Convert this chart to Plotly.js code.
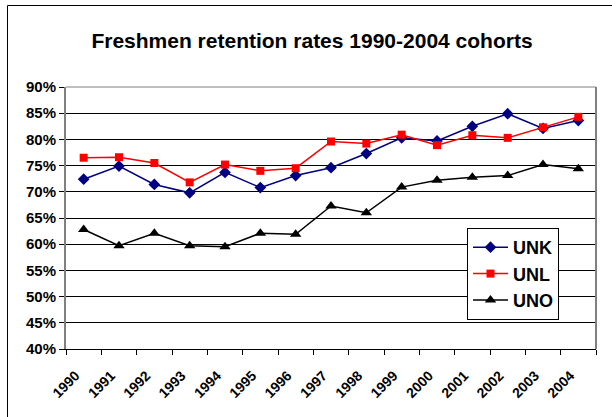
<!DOCTYPE html>
<html>
<head>
<meta charset="utf-8">
<script src="https://cdn.plot.ly/plotly-3.0.1.min.js"></script>
<style>
  html, body { margin: 0; padding: 0; background: #ffffff; }
  #chart { width: 612px; height: 417px; }
</style>
</head>
<body>
<div id="chart"></div>
<script>
// Data
const years = ["1990","1991","1992","1993","1994","1995","1996","1997","1998","1999","2000","2001","2002","2003","2004"];
const unk = [72.4, 74.9, 71.4, 69.8, 73.7, 70.8, 73.1, 74.6, 77.3, 80.3, 79.7, 82.5, 84.9, 82.1, 83.6];
const unl = [76.5, 76.6, 75.5, 71.8, 75.2, 74.0, 74.5, 79.6, 79.2, 80.9, 78.9, 80.8, 80.3, 82.3, 84.3];
const uno = [62.8, 59.7, 62.1, 59.7, 59.5, 62.1, 61.9, 67.3, 66.0, 70.9, 72.2, 72.8, 73.1, 75.2, 74.4];
const yTicks = [40, 45, 50, 55, 60, 65, 70, 75, 80, 85, 90];
const yTickText = yTicks.map(v => "<b>" + v + "%</b>");
const xTickText = years.map(y => "<b>" + y + "</b>");

const font = "Liberation Sans, Arial, sans-serif";

const traces = [
  { name: "<b>UNK</b>", x: years, y: unk, type: "scatter", mode: "lines+markers",
    line: { color: "#000080", width: 1.5 },
    marker: { symbol: "diamond", size: 9, color: "#000080" }, legendgroup: "a" },
  { name: "<b>UNL</b>", x: years, y: unl, type: "scatter", mode: "lines+markers",
    line: { color: "#FF0000", width: 1.5 },
    marker: { symbol: "square", size: 8, color: "#FF0000" }, legendgroup: "b" },
  { name: "<b>UNO</b>", x: years, y: uno, type: "scatter", mode: "lines+markers",
    line: { color: "#000000", width: 1.5 },
    marker: { symbol: "triangle-up", size: 10, color: "#000000" }, legendgroup: "c" }
];

const L = 66, R = 596, T = 87, B = 349, W = 612, H = 417;
const px = x => (x - L) / (R - L);
const py = y => (B - y) / (B - T);

const layout = {
  width: W, height: H,
  margin: { l: L, r: W - R, t: T, b: H - B, pad: 0 },
  paper_bgcolor: "#ffffff",
  plot_bgcolor: "#ffffff",
  font: { family: font, color: "#000000" },
  title: {
    text: "<b>Freshmen retention rates 1990-2004 cohorts</b>",
    font: { family: font, size: 21, color: "#000000" },
    x: px(312), xanchor: "center", xref: "paper",
    y: 1 - 41 / H, yanchor: "middle", yref: "container"
  },
  xaxis: {
    type: "category",
    range: [-0.5, 14.5],
    tickvals: years, ticktext: xTickText,
    showgrid: false,
    showline: true, linecolor: "#000000", linewidth: 1,
    ticks: "outside", ticklen: 5, tickcolor: "#000000", tickwidth: 1,
    tickson: "boundaries",
    tickangle: -45,
    ticklabelshift: -8, ticklabelstandoff: 12,
    tickfont: { family: font, size: 14, color: "#000000" },
    zeroline: false, fixedrange: true
  },
  yaxis: {
    range: [40, 90],
    tickvals: yTicks, ticktext: yTickText,
    showgrid: true, gridcolor: "#000000", gridwidth: 1,
    showline: true, linecolor: "#808080", linewidth: 2,
    ticks: "outside", ticklen: 5, tickcolor: "#000000", tickwidth: 1,
    tickfont: { family: font, size: 15, color: "#000000" },
    zeroline: false, fixedrange: true
  },
  showlegend: true,
  legend: {
    x: px(467), y: py(228), xanchor: "left", yanchor: "top",
    bgcolor: "#ffffff", bordercolor: "#000000", borderwidth: 1,
    font: { family: font, size: 18, color: "#000000" },
    itemwidth: 35,
    traceorder: "grouped", tracegroupgap: 0
  },
  shapes: [
    { type: "line", xref: "paper", yref: "paper", x0: 0, x1: 1, y0: 1, y1: 1,
      line: { color: "#808080", width: 1 }, layer: "above" },
    { type: "line", xref: "paper", yref: "paper", x0: 1, x1: 1, y0: 0, y1: 1,
      line: { color: "#808080", width: 2 }, layer: "above" },
    { type: "rect", xref: "paper", yref: "paper",
      x0: px(7.5), x1: px(640), y0: py(5.5), y1: py(450),
      line: { color: "#000000", width: 1 }, layer: "below" }
  ]
};

Plotly.newPlot("chart", traces, layout, { displayModeBar: false, staticPlot: true });
</script>
</body>
</html>
